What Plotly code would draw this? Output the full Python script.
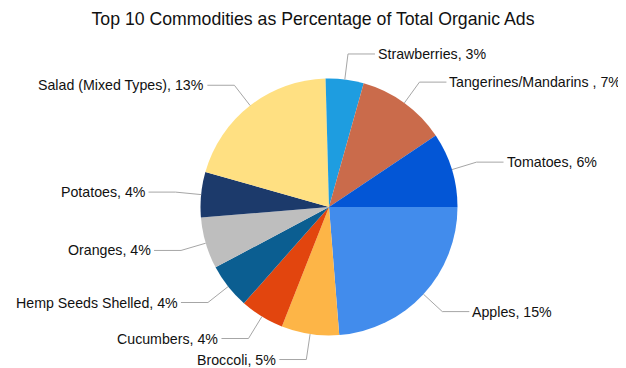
import math
import plotly.graph_objects as go

categories = ["Apples", "Broccoli", "Cucumbers", "Hemp Seeds Shelled", "Oranges",
              "Potatoes", "Salad (Mixed Types)", "Strawberries",
              "Tangerines/Mandarins ", "Tomatoes"]
percent_values = [15.4, 4.7, 3.6, 3.7, 4.2, 3.7, 13.1, 3.1, 7.3, 6.1]
colors = ["#428CEC", "#FDB547", "#E2450E", "#0B5E91", "#BEBEBE",
          "#1C3A6B", "#FFE082", "#1E9DE0", "#CA6B4B", "#0356D6"]
title_text = "Top 10 Commodities as Percentage of Total Organic Ads"

# page body has an 8px margin; figure is sized to fill the rest of the window
OFF = 8
W, H = 626 - OFF, 368 - OFF
CX, CY, R = 329.0 - OFF, 207.0 - OFF, 128.5

fig = go.Figure()
fig.add_trace(go.Pie(
    labels=categories,
    values=percent_values,
    sort=False,
    direction="clockwise",
    rotation=90,
    marker=dict(colors=colors, line=dict(width=0)),
    textinfo="none",
    hoverinfo="label+value",
    showlegend=False,
    domain=dict(x=[(CX - R) / W, (CX + R) / W],
                y=[1 - (CY + R) / H, 1 - (CY - R) / H]),
))

def px(x):
    return x / W

def py(y):
    return 1 - y / H

total = sum(percent_values)
cum = 0.0
shapes = []
annotations = []
for name, v in zip(categories, percent_values):
    mid = (cum + v / 2) / total * 2 * math.pi
    cum += v
    c, s = math.cos(mid), math.sin(mid)
    x0, y0 = CX + R * c, CY + R * s
    x1, y1 = CX + 1.2 * R * c, CY + 1.2 * R * s
    side = 1 if c >= 0 else -1
    x2 = x1 + side * 27
    shapes.append(dict(
        type="path", xref="paper", yref="paper",
        path=f"M {px(x0)} {py(y0)} L {px(x1)} {py(y1)} L {px(x2)} {py(y1)}",
        line=dict(color="#A6A6A6", width=1),
    ))
    annotations.append(dict(
        x=px(x2 + side * 1), y=py(y1), xref="paper", yref="paper",
        text=f"{name}, {round(v)}%", showarrow=False,
        xanchor="left" if side > 0 else "right", yanchor="middle",
        font=dict(family="Liberation Sans, Arial, sans-serif", size=14.2, color="#111111"),
    ))

fig.update_layout(
    width=W, height=H, autosize=False,
    margin=dict(l=0, r=0, t=0, b=0),
    paper_bgcolor="white", plot_bgcolor="white",
    title=dict(text=title_text, x=(313 - OFF) / W, xanchor="center",
               y=1 - (19 - OFF) / H, yanchor="middle",
               font=dict(family="Liberation Sans, Arial, sans-serif", size=17.7, color="#111111")),
    shapes=shapes,
    annotations=annotations,
)

fig.write_html("out.html")
